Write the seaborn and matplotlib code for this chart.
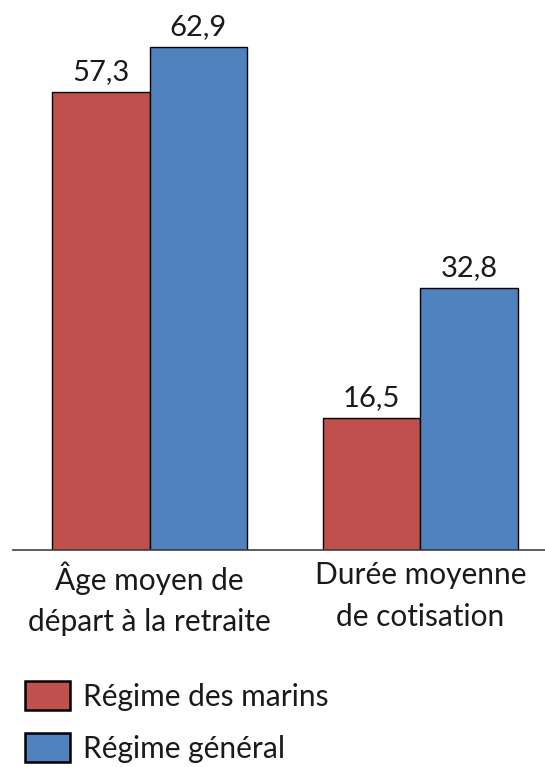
import pandas as pd
import matplotlib
matplotlib.use("Agg")
import matplotlib.pyplot as plt
import seaborn as sns

# Data
categories = ["Âge moyen de\ndépart à la retraite", "Durée moyenne\nde cotisation"]
regimes = ["Régime des marins", "Régime général"]
marins = [57.3, 16.5]
general = [62.9, 32.8]
colors = ["#C0504D", "#4F81BD"]

df = pd.DataFrame({
    "categorie": categories * 2,
    "regime": [regimes[0]] * 2 + [regimes[1]] * 2,
    "valeur": marins + general,
})

sns.set_theme(style="white")
plt.rcParams["font.family"] = ["Lato", "DejaVu Sans"]

W, H = 545, 767
fig = plt.figure(figsize=(W / 100, H / 100), dpi=100)
ax = fig.add_axes([13 / W, 1 - 550 / H, (545 - 13) / W, 550 / H])

sns.barplot(data=df, x="categorie", y="valeur", hue="regime", palette=colors,
            width=0.72, edgecolor="black", linewidth=1.0, saturation=1,
            ax=ax, legend=False)

for container in ax.containers:
    ax.bar_label(container, labels=[f"{v:.1f}".replace(".", ",") for v in container.datavalues],
                 padding=5, fontsize=21, color="#1a1a1a")

ax.set_xlim(-0.504, 1.46)
ax.set_ylim(0, 68.8)
ax.set_yticks([])
ax.set_xlabel("")
ax.set_ylabel("")
for s in ["top", "right", "left"]:
    ax.spines[s].set_visible(False)
ax.spines["bottom"].set_color("#404040")
ax.spines["bottom"].set_linewidth(1.2)
ax.tick_params(axis="x", length=0, pad=8, labelsize=21.5, labelcolor="#1a1a1a")
for t in ax.get_xticklabels():
    t.set_linespacing(1.6)

handles = [plt.Rectangle((0, 0), 1, 1, facecolor=c, edgecolor="black", linewidth=1.8) for c in colors]
fig.legend(handles, regimes, loc="upper left", bbox_to_anchor=(25 / W, 1 - 681 / H),
           frameon=False, fontsize=21.5, handlelength=1.5, handleheight=1.13,
           borderpad=0, borderaxespad=0, handletextpad=0.45, labelspacing=0.75,
           labelcolor="#1a1a1a")

fig.savefig("out.png", dpi=100)
